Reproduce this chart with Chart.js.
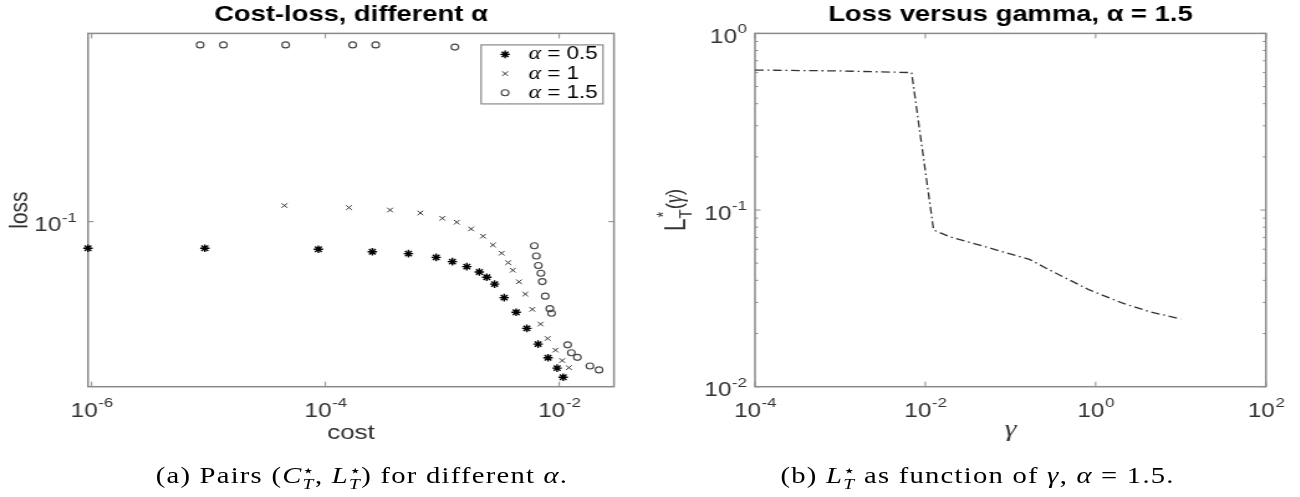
<!DOCTYPE html>
<html>
<head>
<meta charset="utf-8">
<script src="https://cdn.jsdelivr.net/npm/chart.js@4.4.1/dist/chart.umd.min.js"></script>
<style>
  html, body { margin: 0; padding: 0; background: #fff; }
  body { width: 1300px; height: 497px; overflow: hidden; position: relative; }
  /* the source figure is stretched sideways, so the whole stage is too */
  #stage { position: absolute; left: 0; top: 0; width: 1046px; height: 497px; transform: scaleX(1.2438); transform-origin: 0 0; }
  #left { position: absolute; left: 0; top: 0; }
  #right { position: absolute; left: 520px; top: 0; }
  .cap { position: absolute; top: 462px; font-family: "Liberation Serif", serif; font-size: 23px; line-height: 28px; letter-spacing: 1px; white-space: nowrap; color: #000; transform: translateX(-50%); }
  .st { display: inline-block; vertical-align: -0.4em; line-height: 0.85; font-size: 0.68em; text-align: left; letter-spacing: 0; }
  .st span { display: block; }
</style>
</head>
<body>
<div id="stage">
  <canvas id="left" width="520" height="497"></canvas>
  <canvas id="right" width="526" height="497"></canvas>
  <div class="cap" style="left:291px">(a) Pairs (<i>C</i><span class="st"><span>⋆</span><span><i>T</i></span></span>, <i>L</i><span class="st"><span>⋆</span><span><i>T</i></span></span>) for different <i>α</i>.</div>
  <div class="cap" style="left:786px">(b) <i>L</i><span class="st"><span>⋆</span><span><i>T</i></span></span> as function of <i>γ</i>, <i>α</i> = 1.5.</div>
</div>
<script>
// (a) cost / loss pairs for each alpha
const alphas = ['0.5', '1', '1.5'];
const costA05 = [9.3e-7, 9.3e-6, 8.7e-5, 2.52e-4, 5.13e-4, 8.85e-4, 1.22e-3, 1.62e-3, 2.07e-3, 2.40e-3, 2.80e-3, 3.38e-3, 4.28e-3, 5.28e-3, 6.59e-3, 8.02e-3, 9.59e-3, 1.08e-2];
const lossA05 = [0.0761, 0.0761, 0.0753, 0.0734, 0.0720, 0.0693, 0.0663, 0.0630, 0.0596, 0.0565, 0.0526, 0.0458, 0.0394, 0.0334, 0.0284, 0.0247, 0.0222, 0.0202];
const costA1 = [4.46e-5, 1.59e-4, 3.57e-4, 6.49e-4, 1.0e-3, 1.33e-3, 1.76e-3, 2.23e-3, 2.71e-3, 3.22e-3, 3.66e-3, 4.01e-3, 4.53e-3, 5.13e-3, 5.88e-3, 6.92e-3, 7.96e-3, 9.29e-3, 1.06e-2, 1.21e-2];
const lossA1 = [0.118, 0.1155, 0.1127, 0.1094, 0.1035, 0.0994, 0.0928, 0.0861, 0.0787, 0.0723, 0.0656, 0.0607, 0.0539, 0.0475, 0.0406, 0.0349, 0.0301, 0.0267, 0.0240, 0.0223];
const costA15 = [8.47e-6, 1.34e-5, 4.57e-5, 1.71e-4, 2.69e-4, 1.28e-3, 6.12e-3, 6.37e-3, 6.62e-3, 6.97e-3, 7.16e-3, 7.59e-3, 8.31e-3, 8.59e-3, 1.18e-2, 1.27e-2, 1.43e-2, 1.83e-2, 2.19e-2];
const lossA15 = [0.615, 0.615, 0.615, 0.615, 0.615, 0.601, 0.0781, 0.0703, 0.0637, 0.0588, 0.0540, 0.0465, 0.0409, 0.0390, 0.0282, 0.0260, 0.0248, 0.0227, 0.0218];
const leftXTicks = [1e-6, 1e-4, 1e-2];
const leftXTickExps = ['-6', '-4', '-2'];
const leftYTicks = [0.1];
const leftYTickExps = ['-1'];

// (b) loss against gamma, alpha = 1.5
const gamma = [1e-4, 1e-3, 6.9e-3, 1.25e-2, 0.0193, 0.128, 0.167, 0.287, 0.845, 2.08, 4.28, 10];
const lossGamma = [0.620, 0.613, 0.600, 0.0771, 0.0707, 0.0545, 0.0526, 0.0458, 0.0353, 0.0297, 0.0266, 0.0242];
const rightXTicks = [1e-4, 1e-2, 1, 100];
const rightXTickExps = ['-4', '-2', '0', '2'];
const rightYTicks = [0.01, 0.1, 1];
const rightYTickExps = ['-2', '-1', '0'];
const rightYMinor = [0.02, 0.03, 0.04, 0.05, 0.06, 0.07, 0.08, 0.09, 0.2, 0.3, 0.4, 0.5, 0.6, 0.7, 0.8, 0.9];

const pts = (xs, ys) => xs.map((x, i) => ({x: x, y: ys[i]}));
const boxColor = '#8a8a8a';
const sans = '"Liberation Sans", Arial, sans-serif';

function logAxis(min, max, ticks) {
    return {
        type: 'logarithmic', min: min, max: max,
        afterBuildTicks: s => { s.ticks = ticks.map(v => ({value: v})); },
        grid: {display: false},
        border: {display: false},
        ticks: {display: false}
    };
}

// box round the plot with inward MATLAB-like tick marks
function framePlugin(xMajor, yMajor, yMinor) {
    return {
        id: 'frame',
        beforeDatasetsDraw(chart) {
            const {ctx, chartArea: a, scales} = chart;
            ctx.save();
            ctx.strokeStyle = boxColor;
            ctx.lineWidth = 1.5;
            ctx.strokeRect(a.left, a.top, a.right - a.left, a.bottom - a.top);
            ctx.lineWidth = 1;
            ctx.beginPath();
            xMajor.forEach(v => {
                const px = scales.x.getPixelForValue(v);
                ctx.moveTo(px, a.bottom); ctx.lineTo(px, a.bottom - 5);
                ctx.moveTo(px, a.top); ctx.lineTo(px, a.top + 5);
            });
            const ytick = (v, len) => {
                const py = scales.y.getPixelForValue(v);
                ctx.moveTo(a.left, py); ctx.lineTo(a.left + len, py);
                ctx.moveTo(a.right, py); ctx.lineTo(a.right - len, py);
            };
            yMajor.forEach(v => ytick(v, 4.5));
            yMinor.forEach(v => ytick(v, 2.5));
            ctx.stroke();
            ctx.restore();
        }
    };
}

// "10" with a raised exponent, placed with the chart's own scales
function tickLabelPlugin(xTicks, xExps, yTicks, yExps, yGap) {
    return {
        id: 'tickLabels',
        afterDraw(chart) {
            const {ctx, chartArea: a, scales} = chart;
            const base = '19.5px ' + sans, sup = '13.5px ' + sans;
            ctx.save();
            ctx.fillStyle = '#333';
            ctx.textBaseline = 'alphabetic';
            ctx.textAlign = 'left';
            const widths = e => {
                ctx.font = base; const w1 = ctx.measureText('10').width;
                ctx.font = sup; const w2 = ctx.measureText(e).width;
                return [w1, w2];
            };
            const put = (e, x0, yb) => {
                const w1 = widths(e)[0];
                ctx.font = base; ctx.fillText('10', x0, yb);
                ctx.font = sup; ctx.fillText(e, x0 + w1 + 0.5, yb - 9.5);
            };
            xTicks.forEach((v, i) => {
                const w = widths(xExps[i]);
                put(xExps[i], scales.x.getPixelForValue(v) - (w[0] + w[1]) / 2, a.bottom + 30);
            });
            yTicks.forEach((v, i) => {
                const w = widths(yExps[i]);
                put(yExps[i], a.left - yGap - w[0] - w[1] - 0.5, scales.y.getPixelForValue(v) + 9.5);
            });
            ctx.restore();
        }
    };
}

const legendBox = {
    id: 'legendBox',
    afterDatasetsDraw(chart) {
        const {ctx, chartArea: a} = chart;
        const right = a.right - 8.8, left = right - 98, top = a.top + 11.5, h = 59;
        ctx.save();
        ctx.fillStyle = '#fff';
        ctx.fillRect(left, top, right - left, h);
        ctx.strokeStyle = boxColor;
        ctx.lineWidth = 1.2;
        ctx.strokeRect(left, top, right - left, h);
        chart.data.datasets.forEach((ds, i) => {
            const y = top + 9.5 + i * 19.2;
            ctx.strokeStyle = ds.borderColor;
            ctx.fillStyle = ds.backgroundColor;
            ctx.lineWidth = ds.borderWidth;
            Chart.helpers.drawPoint(ctx, {pointStyle: ds.pointStyle, radius: ds.pointRadius, borderWidth: ds.borderWidth, rotation: 0}, left + 19.3, y);
            ctx.fillStyle = '#000';
            ctx.textBaseline = 'middle';
            ctx.font = 'italic 19px "Liberation Serif", serif';
            ctx.fillText('α', left + 38.3, y);
            const w = ctx.measureText('α').width;
            ctx.font = '18px ' + sans;
            ctx.fillText(' = ' + alphas[i], left + 38.3 + w, y);
        });
        ctx.restore();
    }
};

// rotated y label L*_T(gamma)
const gammaYLabel = {
    id: 'gammaYLabel',
    afterDraw(chart) {
        const {ctx, chartArea: a} = chart;
        ctx.save();
        ctx.translate(a.left - 64, (a.top + a.bottom) / 2);
        ctx.rotate(-Math.PI / 2);
        ctx.fillStyle = '#333';
        ctx.textBaseline = 'alphabetic';
        const parts = [
            {t: 'L', f: '23px ' + sans, dy: 0, adv: true},
            {t: '*', f: '15px ' + sans, dy: -13, adv: false},
            {t: 'T', f: '15px ' + sans, dy: 5, adv: true},
            {t: '(', f: '19px ' + sans, dy: -3, adv: true},
            {t: 'γ', f: 'italic 20px "Liberation Serif", serif', dy: -3, adv: true},
            {t: ')', f: '19px ' + sans, dy: -3, adv: true}
        ];
        let total = 0;
        parts.forEach(p => { ctx.font = p.f; if (p.adv) total += ctx.measureText(p.t).width; });
        let x = -total / 2;
        parts.forEach(p => {
            ctx.font = p.f;
            ctx.fillText(p.t, x + (p.adv ? 0 : 1), 8 + p.dy);
            if (p.adv) x += ctx.measureText(p.t).width;
        });
        ctx.restore();
    }
};

const leftX = logAxis(9.31e-7, 0.02938, leftXTicks);
leftX.afterFit = s => { s.height = 110.3; };
leftX.title = {display: true, text: 'cost', color: '#333', font: {family: 'Liberation Sans', size: 21}, padding: {top: 0, bottom: 51}};
const leftY = logAxis(0.01834, 0.692, leftYTicks);
leftY.afterFit = s => { s.width = 70.75; };
leftY.title = {display: true, text: 'loss', color: '#333', font: {family: 'Liberation Sans', size: 21}, padding: {top: 3.2, bottom: 0}};

new Chart(document.getElementById('left'), {
    type: 'scatter',
    data: {
        datasets: [
            {label: 'α = ' + alphas[0], data: pts(costA05, lossA05), pointStyle: 'star', pointRadius: 3.8, borderColor: '#000', backgroundColor: '#000', borderWidth: 1.4, clip: false},
            {label: 'α = ' + alphas[1], data: pts(costA1, lossA1), pointStyle: 'crossRot', pointRadius: 3.2, borderColor: '#333', backgroundColor: '#333', borderWidth: 1, clip: false},
            {label: 'α = ' + alphas[2], data: pts(costA15, lossA15), pointStyle: 'circle', pointRadius: 3, borderColor: '#444', backgroundColor: 'rgba(0,0,0,0)', borderWidth: 1.1, clip: false}
        ]
    },
    options: {
        responsive: false,
        animation: false,
        layout: {padding: {left: 0, right: 26.4, top: 0, bottom: 0}},
        plugins: {
            legend: {display: false},
            tooltip: {enabled: false},
            title: {display: true, fullSize: false, text: 'Cost-loss, different α', color: '#000',
                font: {family: 'Liberation Sans', size: 22, weight: 'bold'}, padding: {top: 2, bottom: 5}}
        },
        scales: {x: leftX, y: leftY}
    },
    plugins: [framePlugin(leftXTicks, leftYTicks, []), tickLabelPlugin(leftXTicks, leftXTickExps, leftYTicks, leftYTickExps, 9), legendBox]
});

const rightX = logAxis(1e-4, 100, rightXTicks);
rightX.afterFit = s => { s.height = 110.3; };
rightX.title = {display: true, text: 'γ', color: '#333', font: {family: 'Liberation Serif', size: 24, style: 'italic'}, padding: {top: 0, bottom: 52.6}};
const rightY = logAxis(0.01, 1, rightYTicks);
rightY.afterFit = s => { s.width = 87; };

new Chart(document.getElementById('right'), {
    type: 'scatter',
    data: {
        datasets: [{
            label: 'loss', data: pts(gamma, lossGamma), showLine: true, pointRadius: 0,
            borderColor: '#333', borderWidth: 1.3, borderDash: [7, 3, 1.5, 3], tension: 0, fill: false
        }]
    },
    options: {
        responsive: false,
        animation: false,
        layout: {padding: {left: 0, right: 28.2, top: 0, bottom: 0}},
        plugins: {
            legend: {display: false},
            tooltip: {enabled: false},
            title: {display: true, fullSize: false, text: 'Loss versus gamma, α = 1.5', color: '#000',
                font: {family: 'Liberation Sans', size: 22, weight: 'bold'}, padding: {top: 2, bottom: 5}}
        },
        scales: {x: rightX, y: rightY}
    },
    plugins: [framePlugin(rightXTicks, rightYTicks, rightYMinor), tickLabelPlugin(rightXTicks, rightXTickExps, rightYTicks, rightYTickExps, 6.5), gammaYLabel]
});
</script>
</body>
</html>
